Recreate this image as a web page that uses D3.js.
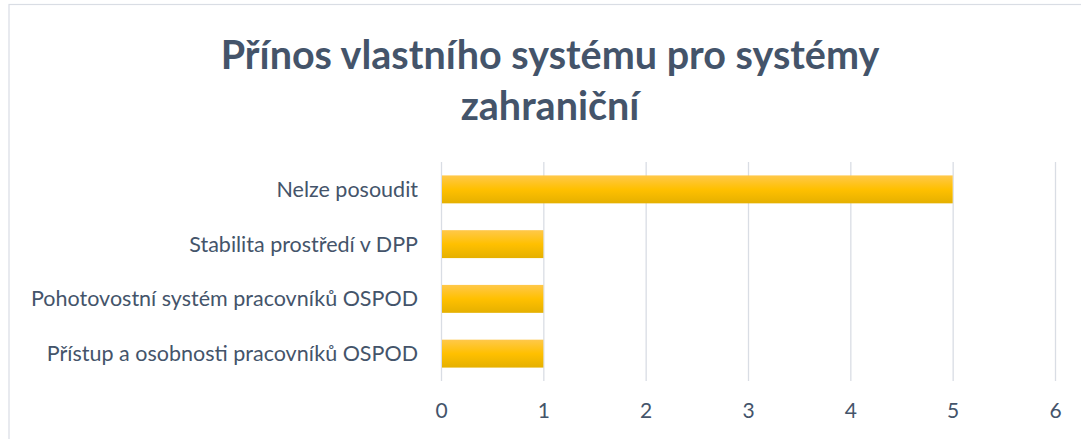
<!DOCTYPE html>
<html>
<head>
<meta charset="utf-8">
<script src="https://cdn.jsdelivr.net/npm/d3@7"></script>
<style>
  body { margin: 0; background: #fff; }
  svg { font-family: Lato, "Open Sans", sans-serif; }
</style>
</head>
<body>
<div id="chart"></div>
<script>
const categories = ["Nelze posoudit", "Stabilita prostředí v DPP", "Pohotovostní systém pracovníků OSPOD", "Přístup a osobnosti pracovníků OSPOD"];
const values = [5, 1, 1, 1];
const ticks = [0, 1, 2, 3, 4, 5, 6];
const titleLines = ["Přínos vlastního systému pro systémy", "zahraniční"];

const width = 1081, height = 439;
const textColor = "#44546a";

let svg = d3.select("#chart").append("svg")
    .attr("width", width)
    .attr("height", height);

// chart frame
svg.append("rect")
    .attr("x", 9).attr("y", 4.5)
    .attr("width", 1090).attr("height", 460)
    .attr("fill", "#fff")
    .attr("stroke", "#d9dde4")
    .attr("stroke-width", 1.2);

let grad = svg.append("defs").append("linearGradient")
    .attr("id", "barGrad")
    .attr("x1", 0).attr("y1", 0).attr("x2", 0).attr("y2", 1);
grad.append("stop").attr("offset", "0%").attr("stop-color", "#ffc84a");
grad.append("stop").attr("offset", "50%").attr("stop-color", "#ffc000");
grad.append("stop").attr("offset", "100%").attr("stop-color", "#e5b000");

let xScale = d3.scaleLinear()
    .domain([0, 6])
    .range([441, 1055]);
let yScale = d3.scaleBand()
    .domain(categories)
    .range([162, 381])
    .paddingInner(0.49)
    .paddingOuter(0.245);

// title
svg.append("g").selectAll("text")
    .data(titleLines)
    .enter().append("text")
    .attr("x", 550)
    .attr("y", (d, i) => 69 + i * 51)
    .attr("text-anchor", "middle")
    .attr("fill", textColor)
    .style("font-size", "39.5px")
    .style("font-weight", "bold")
    .text(d => d);

// gridlines
let xAxis = svg.append("g").classed("x-axis", true)
    .attr("transform", "translate(0,381)")
    .call(d3.axisBottom(xScale).tickValues(ticks).tickSize(-219).tickFormat(d3.format("d")).tickPadding(22));
xAxis.select(".domain").remove();
xAxis.selectAll("line").attr("stroke", "#d9dde4").attr("stroke-width", 1.3);
xAxis.selectAll("text")
    .attr("fill", textColor)
    .style("font-size", "21px")
    .style("font-family", "Lato, 'Open Sans', sans-serif");

// bars
svg.append("g").selectAll("rect")
    .data(values)
    .enter().append("rect")
    .attr("x", xScale(0) + 1)
    .attr("y", (d, i) => yScale(categories[i]))
    .attr("width", d => xScale(d) - xScale(0) - 1)
    .attr("height", yScale.bandwidth())
    .attr("fill", "url(#barGrad)");

// category labels
svg.append("g").selectAll("text")
    .data(categories)
    .enter().append("text")
    .attr("x", 418)
    .attr("y", d => yScale(d) + yScale.bandwidth() / 2)
    .attr("dy", "0.35em")
    .attr("text-anchor", "end")
    .attr("fill", textColor)
    .style("font-size", "21.5px")
    .text(d => d);
</script>
</body>
</html>
